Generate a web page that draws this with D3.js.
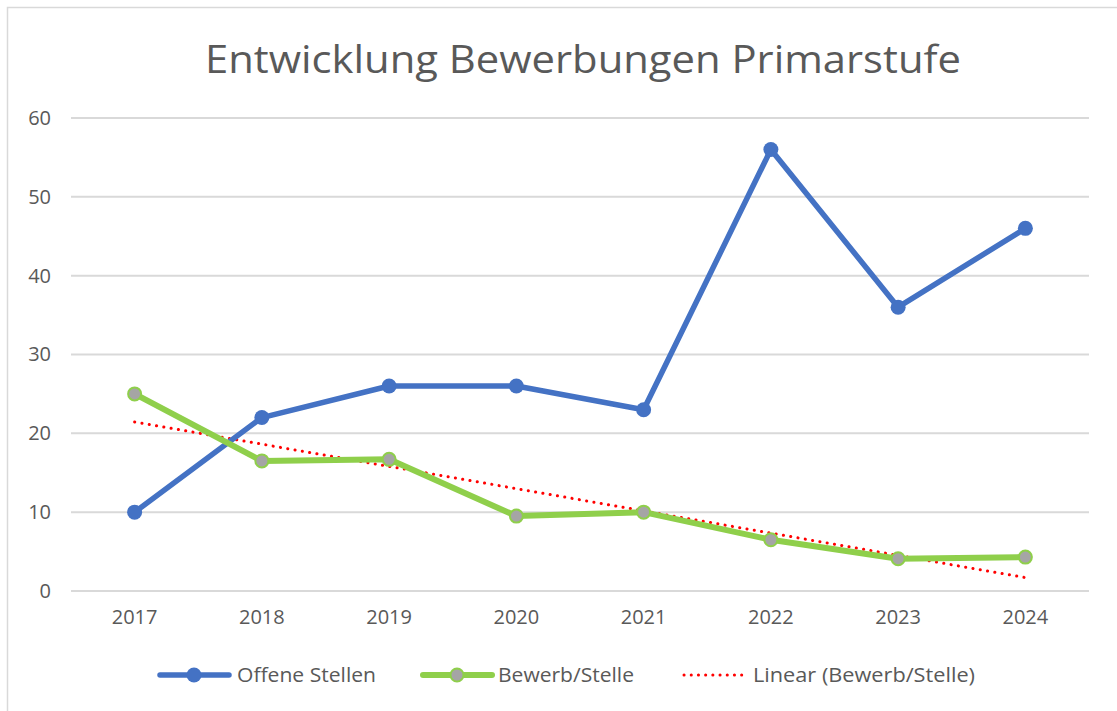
<!DOCTYPE html>
<html>
<head>
<meta charset="utf-8">
<script src="https://cdn.jsdelivr.net/npm/d3@7"></script>
<style>
  body { margin: 0; background: #fff; }
  text { font-family: "Open Sans", "Noto Sans", sans-serif; fill: #595959; }
</style>
</head>
<body>
<div id="chart"></div>
<script>
// Chart data
const years = ["2017", "2018", "2019", "2020", "2021", "2022", "2023", "2024"];
const offeneStellen = [10, 22, 26, 26, 23, 56, 36, 46];
const bewerbStelle = [25, 16.5, 16.7, 9.5, 10, 6.5, 4.1, 4.3];
const yTicks = [0, 10, 20, 30, 40, 50, 60];

const width = 1117, height = 711;
const margin = {top: 118, right: 28, bottom: 120, left: 71};

const svg = d3.select("#chart").append("svg")
    .attr("width", width)
    .attr("height", height);

// Chart border
svg.append("rect")
    .attr("x", 7.5).attr("y", 7.5)
    .attr("width", width + 20).attr("height", height + 20)
    .attr("fill", "none")
    .attr("stroke", "#d9d9d9")
    .attr("stroke-width", 1.5);

// Title
svg.append("text")
    .attr("x", 583).attr("y", 73)
    .attr("text-anchor", "middle")
    .style("font-size", "38px")
    .attr("textLength", 756)
    .attr("lengthAdjust", "spacingAndGlyphs")
    .text("Entwicklung Bewerbungen Primarstufe");

//Scales
let xScale = d3.scaleBand()
    .domain(years)
    .range([margin.left, width - margin.right]);
let yScale = d3.scaleLinear()
    .domain([0, 60])
    .range([height - margin.bottom, margin.top]);
let xPos = d => xScale(d) + xScale.bandwidth() / 2;

// Gridlines
svg.append("g").selectAll("line")
    .data(yTicks)
    .join("line")
    .attr("x1", margin.left).attr("x2", width - margin.right)
    .attr("y1", d => yScale(d)).attr("y2", d => yScale(d))
    .attr("stroke", "#d9d9d9")
    .attr("stroke-width", 2);

//y-axis labels
let yAxis = d3.axisLeft(yScale).tickValues(yTicks).tickSize(0).tickPadding(20);
svg.append("g")
    .attr("transform", "translate(" + margin.left + ",0)")
    .call(yAxis)
    .call(g => g.select(".domain").remove())
    .selectAll("text")
    .style("font-size", "20px")
    .style("font-family", "'Open Sans', sans-serif")
    .attr("fill", "#595959");

//x-axis labels
let xAxis = d3.axisBottom(xScale).tickSize(0).tickPadding(19);
svg.append("g")
    .attr("transform", "translate(0," + (height - margin.bottom) + ")")
    .call(xAxis)
    .call(g => g.select(".domain").remove())
    .selectAll("text")
    .style("font-size", "20px")
    .style("font-family", "'Open Sans', sans-serif")
    .attr("fill", "#595959");

// Trend line (linear regression of Bewerb/Stelle)
let n = bewerbStelle.length;
let xs = d3.range(1, n + 1);
let mx = d3.mean(xs), my = d3.mean(bewerbStelle);
let slope = d3.sum(xs, (x, i) => (x - mx) * (bewerbStelle[i] - my)) / d3.sum(xs, x => (x - mx) * (x - mx));
let icpt = my - slope * mx;

svg.append("line")
    .attr("x1", xPos(years[0])).attr("y1", yScale(icpt + slope * 1))
    .attr("x2", xPos(years[n - 1])).attr("y2", yScale(icpt + slope * n))
    .attr("stroke", "#ff0000")
    .attr("stroke-width", 3)
    .attr("stroke-linecap", "round")
    .attr("stroke-dasharray", "0.1,7.3");

let line = d3.line()
    .x((d, i) => xPos(years[i]))
    .y(d => yScale(d));

// Offene Stellen
svg.append("path")
    .datum(offeneStellen)
    .attr("d", line)
    .attr("fill", "none")
    .attr("stroke", "#4472c4")
    .attr("stroke-width", 5.5)
    .attr("stroke-linejoin", "round");
svg.append("g").selectAll("circle")
    .data(offeneStellen)
    .join("circle")
    .attr("cx", (d, i) => xPos(years[i]))
    .attr("cy", d => yScale(d))
    .attr("r", 7.5)
    .attr("fill", "#4472c4");

// Bewerb/Stelle
svg.append("path")
    .datum(bewerbStelle)
    .attr("d", line)
    .attr("fill", "none")
    .attr("stroke", "#8fcf4b")
    .attr("stroke-width", 6)
    .attr("stroke-linejoin", "round");
svg.append("g").selectAll("circle")
    .data(bewerbStelle)
    .join("circle")
    .attr("cx", (d, i) => xPos(years[i]))
    .attr("cy", d => yScale(d))
    .attr("r", 6.5)
    .attr("fill", "#a5a5a5")
    .attr("stroke", "#8fcf4b")
    .attr("stroke-width", 2);

// Legend
let ly = 675;
let legend = svg.append("g");

legend.append("line")
    .attr("x1", 160).attr("x2", 229).attr("y1", ly).attr("y2", ly)
    .attr("stroke", "#4472c4").attr("stroke-width", 5.5).attr("stroke-linecap", "round");
legend.append("circle")
    .attr("cx", 194).attr("cy", ly).attr("r", 7.5).attr("fill", "#4472c4");
legend.append("text")
    .attr("x", 237).attr("y", ly + 7)
    .style("font-size", "20px")
    .attr("textLength", 139)
    .attr("lengthAdjust", "spacingAndGlyphs")
    .text("Offene Stellen");

legend.append("line")
    .attr("x1", 423).attr("x2", 492).attr("y1", ly).attr("y2", ly)
    .attr("stroke", "#8fcf4b").attr("stroke-width", 6).attr("stroke-linecap", "round");
legend.append("circle")
    .attr("cx", 457).attr("cy", ly).attr("r", 6.5)
    .attr("fill", "#a5a5a5").attr("stroke", "#8fcf4b").attr("stroke-width", 2);
legend.append("text")
    .attr("x", 498).attr("y", ly + 7)
    .style("font-size", "20px")
    .attr("textLength", 136)
    .attr("lengthAdjust", "spacingAndGlyphs")
    .text("Bewerb/Stelle");

legend.append("line")
    .attr("x1", 684).attr("x2", 748).attr("y1", ly).attr("y2", ly)
    .attr("stroke", "#ff0000").attr("stroke-width", 3)
    .attr("stroke-linecap", "round").attr("stroke-dasharray", "0.1,7.1");
legend.append("text")
    .attr("x", 753).attr("y", ly + 7)
    .style("font-size", "20px")
    .attr("textLength", 222)
    .attr("lengthAdjust", "spacingAndGlyphs")
    .text("Linear (Bewerb/Stelle)");
</script>
</body>
</html>
